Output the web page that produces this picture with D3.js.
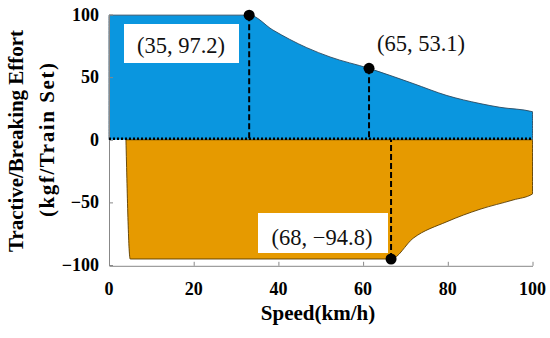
<!DOCTYPE html>
<html>
<head>
<meta charset="utf-8">
<script src="https://cdn.jsdelivr.net/npm/d3@7"></script>
<style>
  body { margin: 0; background: #fff; }
  svg text { font-family: 'Liberation Serif', 'Times New Roman', Times, serif; }
</style>
</head>
<body>
<div id="dataviz"></div>
<script>
// tractive effort curve (speed, effort)
var tractive = [
    [0, 99.5], [33.1, 99.5], [38.7, 87.6], [46.7, 73.5], [52.2, 66.1],
    [61.4, 57.0], [71.8, 44.9], [79.8, 35.3], [87.6, 28.9], [92.3, 25.9], [100, 22.4]
];
// braking effort curve (speed, effort)
var braking = [
    [4.0, 0], [5.0, -95.2], [66.6, -95.2], [71.8, -78.7], [79.8, -65.4],
    [87.6, -55.5], [95.4, -48.1], [100, -43.3]
];
// marked points and their labels
var markSpeed = [33.1, 61.4, 66.6];
var markEffort = [99.5, 57.0, -95.2];
var markLabels = ["(35, 97.2)", "(65, 53.1)", "(68, \u221294.8)"];
var xTicks = [0, 20, 40, 60, 80, 100];
var yTicks = [-100, -50, 0, 50, 100];

var width = 550, height = 338;
var serif = "'Liberation Serif', 'Times New Roman', Times, serif";

var svg = d3.select("#dataviz")
  .append("svg")
  .attr("width", width)
  .attr("height", height)
  .attr("font-family", serif);

var x = d3.scaleLinear().domain([0, 100]).range([109, 532.5]);
var y = d3.scaleLinear().domain([-100, 100]).range([265, 14.5]);

var line = d3.line()
  .x(function(d) { return x(d[0]); })
  .y(function(d) { return y(d[1]); });

// tractive area (above zero)
var blueArea = [[0, 0]].concat(tractive).concat([[100, 0]]);
svg.append("path")
  .datum(blueArea)
  .attr("fill", "#0a96df")
  .attr("stroke", "#2b4a60")
  .attr("stroke-width", 0.9)
  .attr("d", line.curve(d3.curveMonotoneX));

// braking area (below zero)
var orangeArea = braking.concat([[100, 0]]);
svg.append("path")
  .datum(orangeArea)
  .attr("fill", "#e69a00")
  .attr("stroke", "#5a3c00")
  .attr("stroke-width", 0.9)
  .attr("d", function(d) { return line.curve(d3.curveMonotoneX)(d) + "Z"; });

// axes
svg.append("g")
  .attr("transform", "translate(0," + (y(-100) + 0.8) + ")")
  .call(d3.axisBottom(x).tickValues(xTicks).tickSizeInner(-4).tickSizeOuter(0).tickFormat(""))
  .call(function(g) { g.selectAll("path, line").attr("stroke", "#888"); });
svg.append("g")
  .attr("transform", "translate(" + x(0) + ",0)")
  .call(d3.axisLeft(y).tickValues(yTicks).tickSizeInner(-4).tickSizeOuter(0).tickFormat(""))
  .call(function(g) { g.selectAll("path, line").attr("stroke", "#888"); });

// tick labels
svg.selectAll(".xlab")
  .data(xTicks)
  .enter().append("text")
  .attr("font-family", serif)
  .attr("x", function(d) { return x(d); })
  .attr("y", 295)
  .attr("text-anchor", "middle")
  .attr("font-size", 18)
  .attr("font-weight", "bold")
  .text(function(d) { return d; });
svg.selectAll(".ylab")
  .data(yTicks)
  .enter().append("text")
  .attr("font-family", serif)
  .attr("x", 99)
  .attr("y", function(d) { return y(d) + 6; })
  .attr("text-anchor", "end")
  .attr("font-size", 18)
  .attr("font-weight", "bold")
  .text(function(d) { return d < 0 ? "\u2212" + Math.abs(d) : d; });

// axis titles
svg.append("text")
  .attr("font-family", serif)
  .attr("x", 318)
  .attr("y", 320)
  .attr("text-anchor", "middle")
  .attr("font-size", 21)
  .attr("font-weight", "bold")
  .text("Speed(km/h)");
svg.append("text")
  .attr("font-family", serif)
  .attr("transform", "translate(23,141) rotate(-90)")
  .attr("text-anchor", "middle")
  .attr("font-size", 21)
  .attr("font-weight", "bold")
  .attr("textLength", 222)
  .attr("lengthAdjust", "spacing")
  .text("Tractive/Breaking Effort");
svg.append("text")
  .attr("font-family", serif)
  .attr("transform", "translate(54,140) rotate(-90)")
  .attr("text-anchor", "middle")
  .attr("font-size", 21)
  .attr("font-weight", "bold")
  .attr("textLength", 154)
  .attr("lengthAdjust", "spacing")
  .text("(kgf/Train Set)");

// dashed drop lines to zero
svg.selectAll(".drop")
  .data(markSpeed)
  .enter().append("line")
  .attr("x1", function(d) { return x(d); })
  .attr("x2", function(d) { return x(d); })
  .attr("y1", function(d, i) { return y(markEffort[i]); })
  .attr("y2", y(0))
  .attr("stroke", "#000")
  .attr("stroke-width", 2)
  .attr("stroke-dasharray", "6,3");

// dotted zero line
svg.append("line")
  .attr("x1", x(0))
  .attr("x2", x(100))
  .attr("y1", y(0) - 1)
  .attr("y2", y(0) - 1)
  .attr("stroke", "#000")
  .attr("stroke-width", 2.5)
  .attr("stroke-dasharray", "2,2");

// markers
svg.selectAll(".mark")
  .data(markSpeed)
  .enter().append("circle")
  .attr("cx", function(d) { return x(d); })
  .attr("cy", function(d, i) { return y(markEffort[i]); })
  .attr("r", 5.5)
  .attr("fill", "#000");

// label boxes + text
var labelPos = [[181, 45.5, 124, 24, 115, 39], [421, 43, 0, 0, 0, 0], [322, 237, 258, 213, 130, 40]];
labelPos.forEach(function(p, i) {
    if (p[4] > 0) {
        svg.append("rect")
          .attr("x", p[2]).attr("y", p[3])
          .attr("width", p[4]).attr("height", p[5])
          .attr("fill", "#fff");
    }
    svg.append("text")
      .attr("font-family", serif)
      .attr("x", p[0])
      .attr("y", p[1] + 7.5)
      .attr("text-anchor", "middle")
      .attr("font-size", 22.5)
      .attr("fill", "#111")
      .text(markLabels[i]);
});
</script>
</body>
</html>
